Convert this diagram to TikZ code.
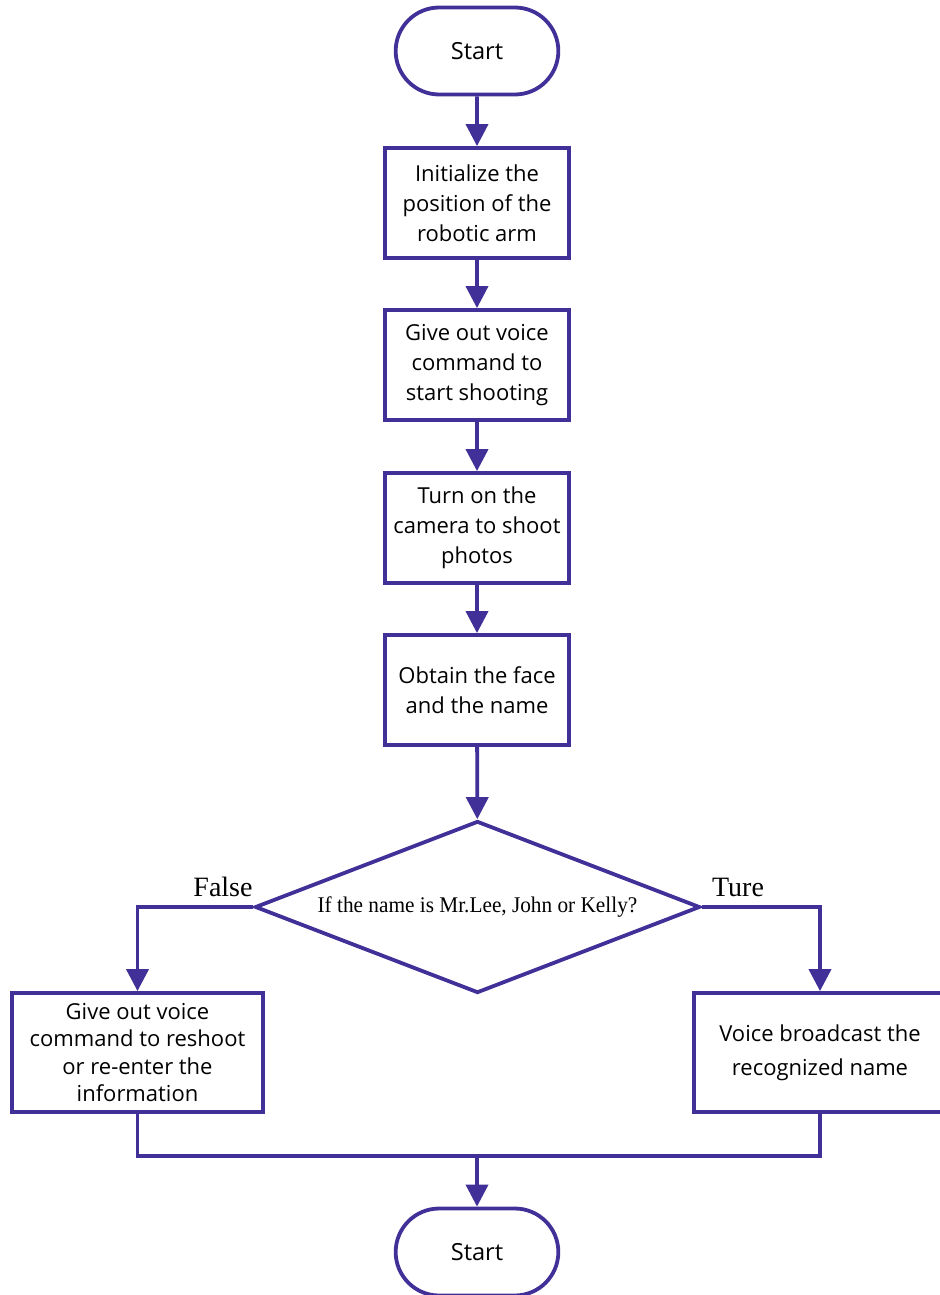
\documentclass[tikz,border=0pt]{standalone}
\usepackage{fontspec}
\setmainfont{Open Sans}
\newfontfamily\qfont[FakeStretch=0.95]{Liberation Serif}
\newfontfamily\lblfont{Liberation Serif}
\usetikzlibrary{shapes.geometric,shapes.misc,arrows.meta}
\definecolor{flowline}{RGB}{64,48,152}

\begin{document}
\begin{tikzpicture}[x=0.5pt,y=-0.5pt,
  every node/.style={font=\fontsize{11}{15}\selectfont},
  line/.style={draw=flowline, line width=1.9pt},
  term/.style={line, rounded rectangle, minimum width=88pt, minimum height=43.5pt,
    font=\fontsize{11.8}{15}\selectfont},
  proc/.style={line, minimum width=92pt, minimum height=55pt, align=center, inner sep=2pt},
  decide/.style={line, diamond, aspect=2.59, minimum width=222.5pt, minimum height=86pt, inner sep=0pt,
    font=\qfont\fontsize{11.2}{13}\selectfont},
  branch/.style={font=\lblfont\fontsize{14}{16}\selectfont},
  flow/.style={line, -{Triangle[width=11pt,length=11pt]}}]
  \useasboundingbox (0,0) rectangle (939,1295);

  \node[term] (start) at (477,51) {Start};
  \node[proc] (init) at (477,203) {Initialize the\\position of the\\robotic arm};
  \node[proc] (voice) at (477,365) {Give out voice\\command to\\start shooting};
  \node[proc] (shoot) at (477,528) {Turn on the\\camera to shoot\\photos};
  \node[proc] (face) at (477,690) {Obtain the face\\and the name};
  \node[decide] (check) at (477.5,907) {If the name is Mr.Lee, John or Kelly?};
  \node[proc, minimum width=125.5pt, minimum height=59.5pt, font=\fontsize{11}{13.8}\selectfont] (retry)
    at (137.5,1052.5) {Give out voice\\command to reshoot\\or re-enter the\\information};
  \node[proc, minimum width=126pt, minimum height=59.5pt, font=\fontsize{11}{17}\selectfont] (say)
    at (820,1052.5) {Voice broadcast the\\recognized name};
  \node[term] (stop) at (477,1252) {Start};
  \node[branch] (no) at (223,887) {False};
  \node[branch] (yes) at (738,887) {Ture};
  \coordinate (join) at (477,1156);

  \draw[flow] (start) -- (init);
  \draw[flow] (init) -- (voice);
  \draw[flow] (voice) -- (shoot);
  \draw[flow] (shoot) -- (face);
  \draw[flow] (face) -- (check);
  \draw[flow] (check.west) -| (retry.north);
  \draw[flow] (check.east) -| (say.north);
  \draw[line] (retry.south) |- (join) -| (say.south);
  \draw[flow] (join) -- (stop);
\end{tikzpicture}
\end{document}
